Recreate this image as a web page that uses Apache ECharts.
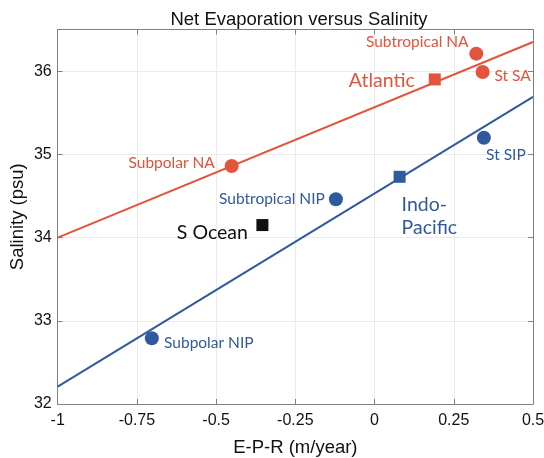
<!DOCTYPE html>
<html>
<head>
<meta charset="utf-8">
<script src="https://cdn.jsdelivr.net/npm/echarts@6/dist/echarts.min.js"></script>
<style>html,body{margin:0;padding:0;background:#fff}#c{width:544px;height:458px}</style>
</head>
<body>
<div id="c"></div>
<script>
// ---- data ----
const xTicks = [-1, -0.75, -0.5, -0.25, 0, 0.25, 0.5];
const yTicks = [32, 33, 34, 35, 36];
const lineX = [-1, 0.5];
const atlanticLineY = [34.0, 36.35];
const indoPacificLineY = [32.21, 35.69];

const redCircleNames = ['Subtropical NA', 'St SA', 'Subpolar NA'];
const redCircleX = [0.321, 0.341, -0.451];
const redCircleY = [36.21, 35.99, 34.86];

const blueCircleNames = ['St SIP', 'Subtropical NIP', 'Subpolar NIP'];
const blueCircleX = [0.345, -0.122, -0.703];
const blueCircleY = [35.20, 34.46, 32.79];

const basinNames = ['Atlantic', 'Indo-\nPacific', 'S Ocean'];
const basinX = [0.190, 0.079, -0.354];
const basinY = [35.90, 34.73, 34.15];

// ---- styles ----
const RED = '#e4533b';
const BLUE = '#2f5a9e';
const BLACK = '#111111';
const basinColors = [RED, BLUE, BLACK];
const labelFont = 'Lato';

const labelOffsets = {
  'Subtropical NA': [-59, -12],
  'St SA': [30, 4],
  'Subpolar NA': [-60, -3],
  'St SIP': [22, 17],
  'Subtropical NIP': [-64, 0],
  'Subpolar NIP': [57, 5],
  'Atlantic': [-53, 1],
  'Indo-\nPacific': [2, 39],
  'S Ocean': [-50, 8]
};

function pts(names, xs, ys, colors, bigText) {
  return names.map((n, i) => {
    const c = colors[i];
    const isIndo = n.indexOf('Indo') === 0;
    return {
      value: [xs[i], ys[i]],
      name: n,
      itemStyle: { color: c, opacity: 1 },
      label: {
        show: true,
        position: 'inside',
        formatter: n,
        offset: labelOffsets[n],
        color: c,
        fontFamily: labelFont,
        fontSize: bigText ? 19.5 : 15.5,
        lineHeight: bigText ? 23 : 17,
        align: isIndo ? 'left' : 'center',
        verticalAlign: 'middle'
      }
    };
  });
}

const axisGray = '#808080';
const chart = echarts.init(document.getElementById('c'));
const fontMain = 'Liberation Sans';
const rep = (arr, c) => arr.map(() => c);

chart.setOption({
  animation: false,
  title: {
    text: 'Net Evaporation versus Salinity',
    left: 294, top: 5, textAlign: 'center',
    textStyle: { fontFamily: fontMain, fontSize: 18.5, fontWeight: 'normal', color: '#111' }
  },
  grid: { left: 57.7, right: 11, top: 29.5, bottom: 54, containLabel: false, outerBoundsMode: 'none' },
  xAxis: [{
    type: 'value', min: -1, max: 0.5, interval: 0.25,
    name: 'E-P-R (m/year)', nameLocation: 'middle', nameGap: 34,
    nameTextStyle: { fontFamily: fontMain, fontSize: 18.5, color: '#111' },
    axisLine: { show: true, onZero: false, lineStyle: { color: axisGray } },
    axisTick: { show: true, inside: true, length: 5, lineStyle: { color: axisGray } },
    axisLabel: { margin: 9, fontFamily: fontMain, fontSize: 16, color: '#111',
      formatter: v => xTicks.includes(v) ? String(v) : '' },
    splitLine: { show: true, lineStyle: { color: '#ebebeb' } }
  }, {
    type: 'value', min: -1, max: 0.5, interval: 0.25, position: 'top',
    axisLine: { show: true, onZero: false, lineStyle: { color: axisGray } },
    axisTick: { show: true, inside: true, length: 5, lineStyle: { color: axisGray } },
    axisLabel: { show: false }, splitLine: { show: false }
  }],
  yAxis: [{
    type: 'value', min: 32, max: 36.5, interval: 1,
    name: 'Salinity (psu)', nameLocation: 'middle', nameGap: 30, nameMoveOverlap: false,
    nameTextStyle: { fontFamily: fontMain, fontSize: 18.5, color: '#111' },
    axisLine: { show: true, onZero: false, lineStyle: { color: axisGray } },
    axisTick: { show: true, inside: true, length: 5, lineStyle: { color: axisGray } },
    axisLabel: { margin: 6, fontFamily: fontMain, fontSize: 16, color: '#111',
      formatter: v => yTicks.includes(v) ? String(v) : '' },
    splitLine: { show: true, lineStyle: { color: '#ebebeb' } }
  }, {
    type: 'value', min: 32, max: 36.5, interval: 1, position: 'right',
    axisLine: { show: true, onZero: false, lineStyle: { color: axisGray } },
    axisTick: { show: true, inside: true, length: 5, lineStyle: { color: axisGray } },
    axisLabel: { show: false }, splitLine: { show: false }
  }],
  series: [
    { type: 'line', data: lineX.map((x, i) => [x, atlanticLineY[i]]), symbol: 'none',
      lineStyle: { color: RED, width: 2 }, z: 2 },
    { type: 'line', data: lineX.map((x, i) => [x, indoPacificLineY[i]]), symbol: 'none',
      lineStyle: { color: BLUE, width: 2 }, z: 2 },
    { type: 'scatter', symbol: 'circle', symbolSize: 14, z: 3,
      data: pts(redCircleNames, redCircleX, redCircleY, rep(redCircleNames, RED), false) },
    { type: 'scatter', symbol: 'circle', symbolSize: 14, z: 3,
      data: pts(blueCircleNames, blueCircleX, blueCircleY, rep(blueCircleNames, BLUE), false) },
    { type: 'scatter', symbol: 'rect', symbolSize: 12, z: 3,
      data: pts(basinNames, basinX, basinY, basinColors, true) }
  ]
});
</script>
</body>
</html>
